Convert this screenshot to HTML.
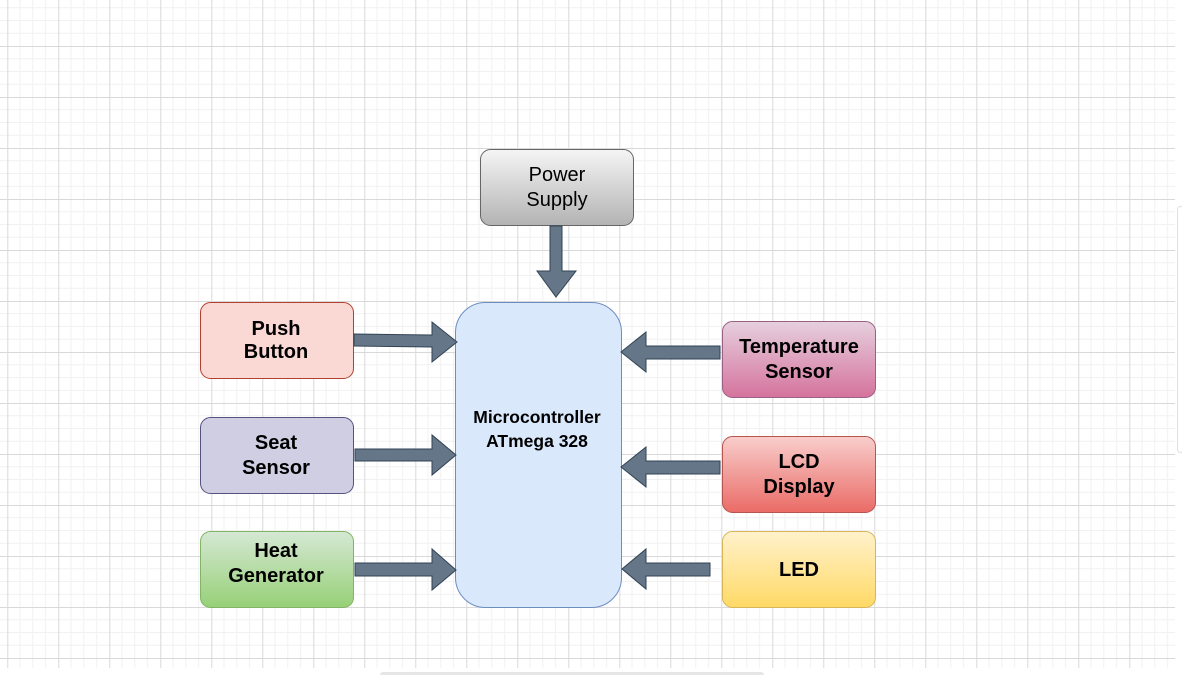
<!DOCTYPE html>
<html><head><meta charset="utf-8"><style>
html,body{margin:0;padding:0;background:#fff;width:1182px;height:675px;overflow:hidden}
svg{display:block}
text{font-family:"Liberation Sans",Arial,sans-serif;fill:#000}
</style></head><body>
<svg width="1182" height="675" viewBox="0 0 1182 675" xmlns="http://www.w3.org/2000/svg">
<defs>
<pattern id="g" x="7.3" y="46" width="51" height="51" patternUnits="userSpaceOnUse">
<path d="M12.75 0V51M25.5 0V51M38.25 0V51M0 12.75H51M0 25.5H51M0 38.25H51" stroke="#f1f1f1" stroke-width="1" fill="none"/>
<path d="M0.5 0V51M0 0.5H51" stroke="#d9d9d9" stroke-width="1" fill="none"/>
</pattern>
<linearGradient id="gp" x1="0" y1="0" x2="0" y2="1"><stop offset="0" stop-color="#f5f5f5"/><stop offset="1" stop-color="#b3b3b3"/></linearGradient>
<linearGradient id="gh" x1="0" y1="0" x2="0" y2="1"><stop offset="0" stop-color="#d5e8d4"/><stop offset="1" stop-color="#97d077"/></linearGradient>
<linearGradient id="gt" x1="0" y1="0" x2="0" y2="1"><stop offset="0" stop-color="#e6d0de"/><stop offset="1" stop-color="#d5739d"/></linearGradient>
<linearGradient id="gl" x1="0" y1="0" x2="0" y2="1"><stop offset="0" stop-color="#f8cecc"/><stop offset="1" stop-color="#ea6b66"/></linearGradient>
<linearGradient id="gy" x1="0" y1="0" x2="0" y2="1"><stop offset="0" stop-color="#fff2cc"/><stop offset="1" stop-color="#ffd966"/></linearGradient>
</defs>
<rect x="0" y="0" width="1175" height="668" fill="url(#g)"/>
<rect x="1177.5" y="206.5" width="6" height="246" rx="3" fill="#fff" stroke="#e0e0e0"/>
<rect x="380" y="672" width="384" height="6" rx="3" fill="#e6e6e6"/>

<g stroke-width="1">
<rect x="480.5" y="149.5" width="153" height="76" rx="10" fill="url(#gp)" stroke="#666"/>
<rect x="200.5" y="302.5" width="153" height="76" rx="10" fill="#fad9d5" stroke="#ae4132"/>
<rect x="200.5" y="417.5" width="153" height="76" rx="10" fill="#d0cee2" stroke="#56517e"/>
<rect x="200.5" y="531.5" width="153" height="76" rx="10" fill="url(#gh)" stroke="#82b366"/>
<rect x="455.5" y="302.5" width="166" height="305" rx="30" fill="#dae8fc" stroke="#6c8ebf"/>
<rect x="722.5" y="321.5" width="153" height="76" rx="10" fill="url(#gt)" stroke="#996185"/>
<rect x="722.5" y="436.5" width="153" height="76" rx="10" fill="url(#gl)" stroke="#b85450"/>
<rect x="722.5" y="531.5" width="153" height="76" rx="10" fill="url(#gy)" stroke="#d6b656"/>
</g>

<g fill="#647687" stroke="#314354" stroke-width="1">
<path d="M550 226H562V271H576L556 297L537 271H550Z"/>
<path d="M354 334L432 335V322L457 342L432 362V347L354 346Z"/>
<path d="M355 449H432V435L456 455L432 475V461H355Z"/>
<path d="M355 563H432V549L456 570L432 590V576H355Z"/>
<path d="M720 346H646V332L621 352L646 372V359H720Z"/>
<path d="M720 461H646V447L621 467L646 487V474H720Z"/>
<path d="M710 563H646V549L622 569L646 589V576H710Z"/>
</g>

<g font-size="20" text-anchor="middle">
<text x="557" y="181">Power</text>
<text x="557" y="206">Supply</text>
<g font-weight="bold">
<text x="276" y="335">Push</text>
<text x="276" y="358">Button</text>
<text x="276" y="449">Seat</text>
<text x="276" y="474">Sensor</text>
<text x="276" y="557">Heat</text>
<text x="276" y="582">Generator</text>
<text x="799" y="353">Temperature</text>
<text x="799" y="378">Sensor</text>
<text x="799" y="468">LCD</text>
<text x="799" y="493">Display</text>
<text x="799" y="576">LED</text>
</g>
<g font-weight="bold" font-size="17.5">
<text x="537" y="423">Microcontroller</text>
<text x="537" y="447">ATmega 328</text>
</g>
</g>
</svg>
</body></html>
